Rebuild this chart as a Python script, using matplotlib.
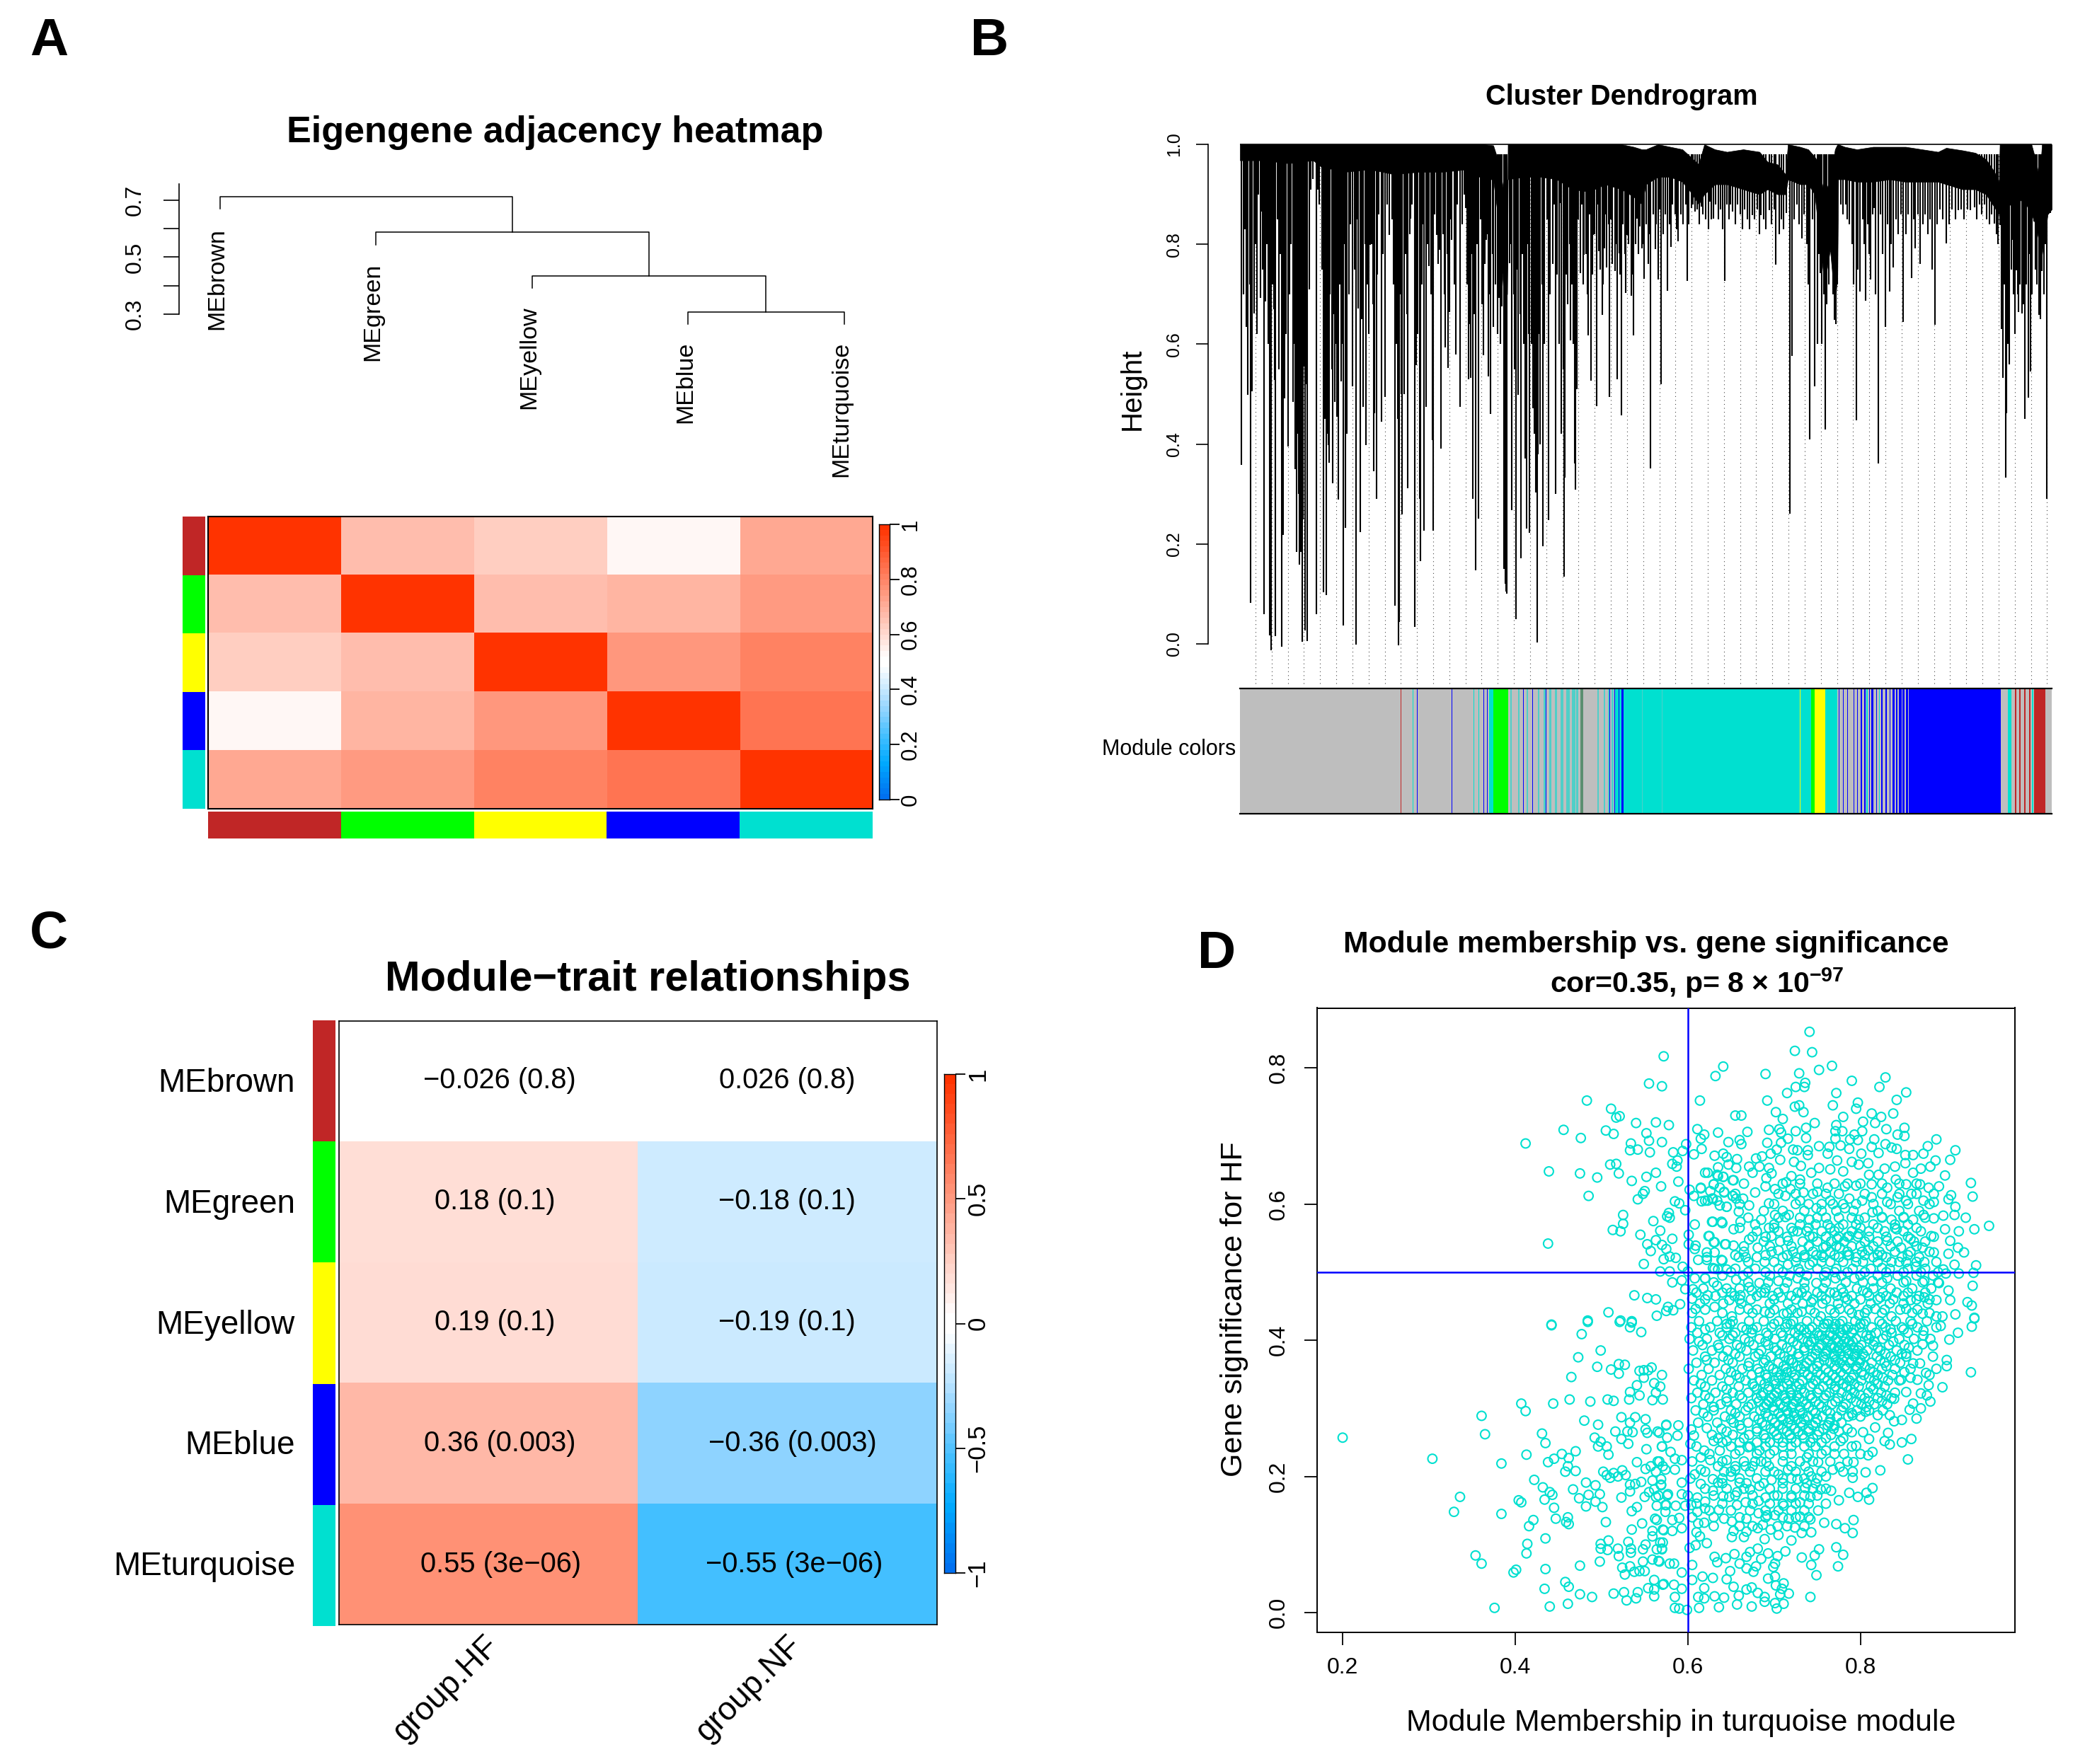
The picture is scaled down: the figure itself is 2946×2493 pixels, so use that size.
# Four panel WGCNA figure: eigengene heatmap, gene dendrogram,
# module-trait heatmap and module membership scatter.

import numpy as np
import matplotlib
matplotlib.use('Agg')
import matplotlib.pyplot as plt
from matplotlib.colors import LinearSegmentedColormap

W, H = 2946, 2493
DPI = 100

TURQ = '#00E0D0'
module_palette = {'grey': '#BEBEBE', 'turquoise': TURQ, 'blue': '#0000FF', 'green': '#00FF00',
                  'yellow': '#FFFF00', 'brown': '#C02626', 'teal': '#4FCFC8', 'olive': '#5A8F70'}

# panel A
me_names = ['MEbrown', 'MEgreen', 'MEyellow', 'MEblue', 'MEturquoise']
me_colors = ['brown', 'green', 'yellow', 'blue', 'turquoise']
adjacency = [[1.00, 0.67, 0.63, 0.535, 0.72],
             [0.67, 1.00, 0.67, 0.69, 0.75],
             [0.63, 0.67, 1.00, 0.76, 0.81],
             [0.535, 0.69, 0.76, 1.00, 0.84],
             [0.72, 0.75, 0.81, 0.84, 1.00]]
# height of each merge, from the lowest one up
merge_heights = [0.308, 0.435, 0.587, 0.712]

# panel C
trait_names = ['group.HF', 'group.NF']
trait_cor = [[-0.026, 0.026], [0.18, -0.18], [0.19, -0.19], [0.36, -0.36], [0.55, -0.55]]
trait_text = [['\u22120.026 (0.8)', '0.026 (0.8)'],
              ['0.18 (0.1)', '\u22120.18 (0.1)'],
              ['0.19 (0.1)', '\u22120.19 (0.1)'],
              ['0.36 (0.003)', '\u22120.36 (0.003)'],
              ['0.55 (3e\u221206)', '\u22120.55 (3e\u221206)']]

# panel B: gene order runs 0-1000 along the tree
env_order = [0, 30, 60, 90, 100, 130, 160, 190, 220, 250, 280, 300, 312, 319, 324, 325, 326, 329, 330, 350,
             370, 390, 410, 430, 450, 470, 485, 495, 500, 515, 530, 545, 555, 565, 572, 585, 600, 620, 640,
             650, 662, 672, 675, 690, 700, 708, 710, 720, 727, 733, 736, 737, 745, 760, 780, 800, 820, 840,
             860, 870, 890, 906, 919, 929, 935, 936, 950, 965, 975, 980, 985, 988, 995, 1000]
env_top = [1, 1, 1, 1, 1, 1, 1, 1, 1, 1, 1, 1, 0.998, 0.963, 0.913, 0.85, 0.70, 0.70, 1, 1,
           1, 1, 1, 1, 1, 1, 0.995, 0.99, 0.99, 1, 0.995, 0.99, 0.975, 0.96, 1, 0.99, 0.985, 0.99, 0.985,
           0.965, 0.96, 0.94, 1, 0.995, 0.99, 0.975, 0.97, 0.90, 0.93, 0.99, 1, 1, 0.995, 0.99, 0.995, 0.995, 0.995, 0.99,
           0.985, 0.993, 0.988, 0.983, 0.97, 0.946, 0.925, 1, 1, 1, 1, 0.97, 0.93, 1, 1, 1]
env_bottom = [0.968, 0.968, 0.962, 0.968, 0.955, 0.945, 0.95, 0.94, 0.945, 0.945, 0.95, 0.93, 0.93, 0.84, 0.72, 0.70, 0.70, 0.70, 0.93, 0.935,
              0.935, 0.93, 0.91, 0.905, 0.92, 0.91, 0.895, 0.88, 0.92, 0.935, 0.935, 0.925, 0.905, 0.88, 0.90, 0.92, 0.92, 0.91, 0.90,
              0.91, 0.90, 0.90, 0.93, 0.92, 0.92, 0.90, 0.87, 0.72, 0.79, 0.68, 0.74, 0.93, 0.93, 0.925, 0.925, 0.93, 0.925, 0.925,
              0.925, 0.92, 0.91, 0.91, 0.90, 0.875, 0.86, 0.87, 0.88, 0.89, 0.86, 0.84, 0.80, 0.78, 0.86, 0.87]
# (gene order, lowest height) of the branches that stick out below the black band
dendro_spikes = [(2, .358), (8, .635), (10, .498), (13, .082), (15, .505), (17, .661), (25, .693), (27, .866), (30, .059), (31, .685),
                 (37, .017), (38, -.013), (43, .528), (44, .015), (51, -.006), (53, .218), (55, .492), (59, .395), (65, .485), (70, .184),
                 (73, .159), (75, .184), (77, .004), (79, .555), (80, .027), (83, .006), (85, .709), (94, .059), (96, .909), (103, .104),
                 (106, .098), (107, .42), (109, .398), (110, .363), (114, .321), (117, .485), (119, .455), (121, .289), (125, .525), (127, .037),
                 (130, .233), (132, .421), (139, .515), (143, -.001), (146, .672), (148, .224), (152, .475), (155, .398), (160, .799), (165, .345),
                 (166, .462), (168, .291), (174, .445), (179, .495), (184, .819), (191, .077), (195, -.003), (196, .044), (200, .259), (202, .500),
                 (207, .311), (210, .852), (215, .034), (217, .558), (221, .291), (222, .166), (227, .226), (229, .475), (233, .756), (237, .408),
                 (238, .226), (242, .819), (246, .789), (248, .391), (253, .593), (256, .552), (258, .665), (261, .809), (266, .580), (271, .475),
                 (278, .872), (282, .530), (284, .532), (287, .291), (290, .148), (294, .251), (300, .578), (303, .809), (306, .535), (309, .460),
                 (312, .635), (319, .692), (323, .675), (325, .15), (327, .12), (328, .105), (329, .10), (332, .762), (335, .268), (340, .049),
                 (343, .498), (346, .171), (351, .371), (353, .231), (357, .223), (361, .472), (364, .303), (366, .003), (370, .40), (373, .196),
                 (380, .248), (389, .300), (394, .883), (399, .134), (400, .333), (407, .607), (412, .361), (413, .309), (415, .510), (419, .742),
                 (424, .779), (429, .617), (432, .527), (435, .819), (439, .476), (442, .786), (446, .659), (449, .792), (452, .753), (455, .494),
                 (462, .746), (465, .530), (467, .782), (470, .458), (475, .703), (477, .819), (482, .697), (485, .617), (489, .852), (493, .836),
                 (495, .792), (498, .731), (506, .351), (512, .790), (515, .730), (519, .520), (527, .707), (531, .794), (540, .806), (551, .727),
                 (556, .872), (561, .866), (568, .876), (579, .886), (583, .851), (597, .727), (604, .879), (607, .866), (631, .859), (642, .858),
                 (652, .869), (660, .759), (673, .862), (677, .261), (680, .577), (692, .812), (702, .409), (708, .515), (715, .742), (721, .429),
                 (727, .806), (732, .649), (734, .640), (748, .850), (759, .447), (764, .705), (771, .687), (777, .730), (781, .872), (786, .361),
                 (795, .634), (800, .705), (805, .753), (817, .645), (827, .733), (832, .792), (838, .760), (856, .639), (870, .802), (885, .869),
                 (900, .869), (905, .874), (920, .850), (929, .842), (936, .839), (938, .631), (940, .533), (943, .333), (944, .462), (948, .560),
                 (951, .809), (956, .748), (959, .664), (963, .662), (967, .450), (971, .493), (974, .545), (978, .846), (984, .659), (988, .747),
                 (994, .290), (998, .862)]
# shorter branches, estimated: they crowd together under the band
dendro_short = [(4, .7), (6, .83), (12, .72), (19, .8), (21, .62), (23, .9), (28, .75), (33, .8), (35, .6), (40, .72), (42, .67), (46, .85), (48, .55), (50, .78),
                (57, .62), (61, .7), (63, .8), (67, .6), (68, .35), (71, .42), (72, .3), (74, .55), (76, .4), (78, .25), (81, .52), (87, .91), (90, .93), (98, .88),
                (101, .75), (104, .6), (105, .45), (108, .62), (111, .7), (113, .55), (116, .66), (118, .6), (120, .52), (123, .72), (126, .6), (129, .8), (134, .7),
                (136, .84), (141, .75), (145, .85), (150, .65), (154, .8), (157, .72), (159, .62), (162, .8), (164, .68), (169, .74), (171, .86), (176, .78), (181, .88),
                (187, .85), (189, .72), (193, .6), (194, .45), (198, .7), (199, .5), (204, .78), (206, .66), (209, .82), (212, .88), (219, .62), (224, .72), (226, .84),
                (231, .8), (235, .7), (240, .86), (244, .76), (250, .82), (252, .7), (255, .78), (260, .85), (264, .72), (268, .88), (274, .84), (276, .9), (280, .72),
                (283, .64), (286, .78), (289, .66), (292, .8), (296, .85), (298, .68), (302, .76), (305, .82), (308, .7), (311, .78), (315, .72), (317, .62), (321, .6),
                (334, .8), (337, .7), (338, .55), (339, .6), (342, .75), (345, .66), (348, .78), (350, .6), (352, .5), (355, .8), (356, .62), (359, .6), (362, .55),
                (363, .42), (365, .5), (367, .38), (369, .62), (372, .72), (375, .6), (378, .85), (382, .7), (385, .76), (387, .88), (391, .74), (393, .6), (396, .42),
                (398, .55), (402, .74), (404, .68), (406, .8), (409, .72), (411, .6), (414, .75), (417, .85), (421, .88), (423, .72), (426, .78), (428, .7), (431, .86),
                (434, .74), (437, .82), (440, .88), (444, .75), (447, .72), (451, .86), (454, .84), (457, .85), (459, .76), (464, .8), (468, .74), (472, .84), (474, .78),
                (479, .8), (484, .74), (487, .8), (491, .78), (497, .8), (500, .84), (503, .76), (505, .82), (509, .86), (513, .84), (517, .87), (521, .82), (524, .86),
                (529, .84), (533, .88), (536, .86), (538, .83), (543, .86), (546, .84), (549, .88), (553, .84), (558, .88), (563, .87), (566, .84), (570, .86), (574, .85),
                (577, .83), (581, .85), (586, .88), (589, .85), (592, .87), (595, .83), (600, .88), (602, .85), (610, .84), (613, .88), (616, .86), (619, .83), (622, .87),
                (625, .85), (628, .83), (634, .85), (637, .87), (640, .82), (645, .85), (648, .83), (655, .84), (658, .87), (664, .82), (667, .85), (670, .83), (683, .85),
                (686, .88), (689, .84), (695, .86), (698, .8), (700, .72), (705, .85), (711, .6), (713, .78), (717, .6), (719, .7), (723, .68), (725, .72), (729, .78),
                (731, .7), (736, .72), (740, .88), (743, .86), (746, .88), (751, .84), (754, .8), (756, .72), (761, .75), (767, .85), (769, .8), (773, .84), (775, .78),
                (779, .86), (783, .7), (789, .86), (792, .78), (798, .84), (802, .8), (808, .85), (811, .82), (814, .86), (820, .82), (823, .86), (830, .85), (835, .86),
                (841, .84), (844, .86), (847, .82), (850, .85), (853, .75), (859, .84), (862, .87), (866, .85), (874, .84), (877, .87), (881, .85), (888, .87), (892, .85),
                (896, .87), (908, .85), (911, .88), (914, .86), (917, .88), (923, .84), (926, .86), (932, .82), (934, .8), (942, .72), (946, .6), (950, .75), (953, .7),
                (955, .62), (958, .7), (961, .72), (965, .68), (969, .72), (973, .78), (976, .7), (980, .75), (982, .72), (986, .65), (990, .7), (992, .8), (996, .86)]
# (start, end, colour) of the wide blocks in the colour row
module_blocks = [(0, 306.5, 'grey'), (306.5, 312, 'turquoise'), (312, 330, 'green'), (330, 426, 'grey'), (426, 461, 'grey'),
                 (461, 704, 'turquoise'), (704, 708, 'green'), (708, 721, 'yellow'), (721, 736, 'turquoise'), (736, 829, 'grey'),
                 (829, 937, 'blue'), (937, 946, 'grey'), (946, 950, 'turquoise'), (950, 978, 'grey'), (978, 992, 'brown'), (992, 1000, 'grey')]
# (position, width, colour) of the thin stripes drawn over them
module_stripes = [(198, .4, 'brown'), (208, .4, 'turquoise'), (213, .4, 'turquoise'), (218, .5, 'blue'), (245, .3, 'yellow'), (261, .5, 'blue'),
                  (270, .3, 'yellow'), (288, .5, 'turquoise'), (294, .5, 'turquoise'), (300, .8, 'blue'), (304, .8, 'blue'),
                  (333, 1.5, 'teal'), (343, 1.5, 'teal'), (353, 2, 'teal'), (367, 2, 'teal'), (374, 3, 'teal'), (381, 2.5, 'teal'), (388, 3, 'teal'),
                  (395, 3, 'teal'), (402, 4, 'teal'), (409, 4, 'teal'), (414, 3, 'teal'), (349, .8, 'blue'), (360, .6, 'blue'), (377, .6, 'blue'),
                  (419, 4, 'olive'), (440, 2, 'teal'), (448, 2, 'teal'), (453, 2, 'teal'), (458, 2, 'teal'), (455, 1, 'blue'), (461, 1, 'blue'),
                  (466, 1, 'blue'), (470, 2.5, 'blue'), (495, .8, 'teal'), (520, .8, 'teal'), (528, .5, 'blue'),
                  (584, .4, 'yellow'), (690, .4, 'yellow'), (738, .8, 'blue'), (743, .8, 'blue'), (748, .8, 'blue'),
                  (752, .8, 'blue'), (756, .8, 'blue'), (760, .8, 'blue'), (765, 1, 'blue'), (769, 2, 'blue'), (775, 1, 'blue'), (778, 2, 'blue'),
                  (784, 1, 'blue'), (790, 1.5, 'blue'), (795, 2, 'blue'), (800, 1.5, 'blue'), (804, 2.5, 'blue'), (808, 2, 'blue'), (812, 3, 'blue'),
                  (816, 2.5, 'blue'), (820, 3, 'blue'), (824, 3, 'blue'), (827, 2, 'blue'), (772, 1, 'turquoise'), (787, 1, 'turquoise'),
                  (955, 1, 'brown'), (960, 1.5, 'brown'), (966, 1.5, 'brown'), (972, 1.5, 'brown'), (976, 1, 'turquoise')]

# panel D: (module membership, gene significance) for the points that can be told apart
mm_gs_points = [
    (.200, .257), (.304, .226), (.361, .289), (.365, .262), (.384, .219), (.336, .170), (.329, .148), (.384, .145), (.407, .307), (.412, .296),
    (.413, .232), (.431, .263), (.435, .249), (.438, .221), (.445, .226), (.454, .233), (.462, .227), (.470, .237), (.461, .215), (.458, .207),
    (.470, .208), (.422, .195), (.432, .184), (.440, .177), (.443, .173), (.434, .166), (.445, .154), (.447, .138), (.404, .165), (.407, .162),
    (.421, .136), (.416, .127), (.461, .140), (.459, .133), (.462, .130), (.435, .109), (.414, .101), (.413, .087), (.354, .084), (.361, .072),
    (.401, .063), (.398, .059), (.435, .064), (.434, .035), (.376, .007), (.440, .009), (.461, .013), (.458, .045), (.462, .038), (.475, .027),
    (.489, .023), (.475, .069), (.498, .075), (.442, .422), (.484, .427), (.477, .409), (.521, .427), (.535, .426), (.533, .419), (.546, .412),
    (.499, .385), (.473, .375), (.495, .361), (.511, .357), (.520, .365), (.527, .364), (.520, .351), (.465, .346), (.444, .307), (.463, .313),
    (.487, .310), (.507, .313), (.514, .311), (.532, .313), (.544, .355), (.549, .356), (.554, .356), (.558, .360), (.549, .345), (.570, .349),
    (.561, .337), (.568, .332), (.541, .334), (.533, .324), (.544, .319), (.563, .323), (.559, .312), (.571, .313), (.480, .282), (.496, .276),
    (.523, .287), (.539, .287), (.551, .284), (.533, .279), (.516, .266), (.530, .266), (.536, .265), (.551, .269), (.553, .264), (.565, .266),
    (.575, .275), (.523, .255), (.531, .248), (.492, .257), (.499, .251), (.496, .244), (.506, .244), (.508, .232), (.552, .240), (.570, .244),
    (.541, .221), (.551, .211), (.557, .215), (.565, .222), (.571, .215), (.563, .207), (.502, .207), (.506, .202), (.514, .205), (.510, .198),
    (.519, .200), (.524, .209), (.528, .202), (.482, .191), (.493, .187), (.467, .181), (.485, .173), (.498, .174), (.474, .168), (.493, .163),
    (.482, .156), (.501, .155), (.505, .133), (.523, .169), (.533, .178), (.533, .188), (.539, .189), (.546, .192), (.559, .194), (.569, .196),
    (.569, .187), (.550, .170), (.555, .177), (.561, .181), (.563, .170), (.576, .172), (.564, .157), (.574, .158), (.535, .149), (.541, .155),
    (.562, .138), (.547, .131), (.535, .122), (.559, .120), (.572, .121), (.559, .112), (.508, .106), (.499, .101), (.499, .094), (.507, .092),
    (.519, .094), (.531, .104), (.534, .094), (.520, .083), (.534, .088), (.548, .093), (.551, .100), (.568, .103), (.564, .093), (.570, .094),
    (.559, .078), (.548, .075), (.566, .076), (.524, .066), (.533, .068), (.527, .056), (.538, .060), (.544, .061), (.550, .061), (.561, .048),
    (.554, .036), (.571, .041), (.542, .030), (.514, .028), (.526, .030), (.529, .018), (.540, .021), (.561, .034), (.561, .024),
    (.928, .353), (.895, .331), (.932, .432), (.929, .420), (.900, .371), (.900, .362), (.888, .358), (.866, .342), (.880, .349), (.876, .352),
    (.879, .334), (.870, .322), (.877, .319), (.881, .310), (.861, .307), (.857, .298), (.870, .300), (.865, .285), (.848, .283), (.839, .281),
    (.859, .255), (.848, .250), (.834, .247), (.855, .225), (.823, .209), (.806, .206), (.791, .198), (.791, .207), (.814, .183), (.807, .176),
    (.810, .166), (.797, .170), (.787, .176), (.792, .136), (.791, .117), (.782, .124), (.772, .130), (.758, .132), (.751, .150), (.772, .096),
    (.780, .085), (.774, .068), (.752, .093), (.747, .084), (.743, .070), (.749, .055), (.732, .081), (.742, .023), (.717, .028), (.711, .043),
    (.711, .013), (.703, .006), (.701, .014), (.707, .027), (.702, .040), (.709, .035), (.693, .050), (.701, .053), (.674, .009), (.657, .012),
    (.659, .025), (.636, .008), (.613, .007), (.642, .022), (.631, .024), (.619, .021), (.612, .023), (.619, .036), (.668, .034), (.674, .037),
    (.681, .029), (.689, .023), (.689, .016), (.617, .053), (.605, .048), (.605, .070), (.653, .038), (.645, .049), (.629, .051), (.649, .061),
    (.634, .074), (.631, .082), (.644, .080), (.654, .086), (.660, .072), (.668, .082), (.668, .065), (.676, .060), (.679, .068), (.685, .079),
    (.672, .089), (.681, .094), (.693, .087), (.704, .083), (.713, .090), (.701, .072), (.699, .067), (.593, .059), (.584, .072), (.584, .041),
    (.593, .035), (.572, .042), (.585, .023), (.585, .007), (.590, .006), (.599, .004), (.622, .102), (.614, .112), (.610, .118), (.602, .095),
    (.609, .099), (.651, .111), (.653, .120), (.665, .111), (.668, .119), (.689, .108), (.705, .114), (.720, .106), (.724, .125), (.732, .117),
    (.743, .118), (.742, .137), (.681, .124), (.696, .122), (.687, .129), (.704, .127), (.571, .122), (.582, .120), (.593, .124), (.570, .093),
    (.567, .075), (.579, .072), (.571, .103), (.575, .276), (.589, .275), (.567, .264), (.588, .260), (.576, .257), (.570, .244), (.580, .236),
    (.585, .226), (.567, .222), (.593, .224), (.585, .210), (.574, .210), (.593, .191), (.569, .188), (.577, .174), (.593, .174), (.566, .172),
    (.575, .158), (.586, .157), (.574, .148), (.590, .139), (.582, .136), (.564, .136), (.597, .157), (.603, .248), (.604, .269), (.622, .271),
    (.607, .260), (.619, .238), (.630, .252), (.645, .252), (.615, .228), (.626, .224), (.637, .238), (.660, .238), (.670, .243), (.645, .224),
    (.655, .210), (.667, .215), (.678, .222), (.683, .238), (.700, .238), (.711, .231), (.691, .221), (.642, .207), (.629, .196), (.615, .210),
    (.608, .203), (.615, .189), (.629, .179), (.635, .191), (.650, .200), (.660, .191), (.657, .177), (.641, .171), (.611, .169), (.620, .163),
    (.604, .158), (.611, .148), (.620, .153), (.612, .131), (.619, .132), (.636, .151), (.642, .138), (.651, .134), (.648, .170), (.667, .162),
    (.668, .138), (.657, .158), (.682, .146), (.692, .143), (.701, .143), (.711, .157), (.717, .138), (.730, .141), (.730, .162), (.742, .170),
    (.720, .169), (.704, .172), (.690, .169), (.682, .164), (.672, .181), (.683, .186), (.697, .195), (.716, .210), (.705, .203), (.727, .196),
    (.736, .183), (.743, .200), (.754, .181), (.766, .179), (.775, .165), (.760, .200), (.768, .210), (.751, .221), (.738, .228), (.781, .233),
    (.776, .214), (.760, .238), (.792, .221), (.795, .245), (.809, .231), (.814, .236), (.810, .255), (.803, .265), (.817, .272), (.832, .264),
    (.828, .252), (.790, .265), (.777, .252), (.791, .290), (.806, .295), (.820, .290), (.834, .290), (.825, .311), (.839, .314), (.853, .324),
    (.847, .342), (.858, .345), (.869, .366), (.861, .366), (.853, .380), (.872, .394), (.884, .392), (.873, .414), (.884, .376), (.893, .421),
    (.903, .401), (.913, .411),
    (.572, .817), (.641, .802), (.632, .788), (.555, .777), (.570, .773), (.483, .752), (.614, .752), (.511, .740), (.517, .727), (.521, .729),
    (.655, .730), (.662, .730), (.563, .720), (.540, .719), (.578, .716), (.456, .709), (.476, .697), (.505, .708), (.514, .703), (.552, .704),
    (.412, .689), (.611, .710), (.619, .702), (.615, .696), (.635, .705), (.669, .706), (.660, .694), (.662, .688), (.647, .691), (.555, .693),
    (.570, .691), (.534, .689), (.533, .679), (.542, .680), (.556, .676), (.598, .688), (.594, .678), (.583, .676), (.607, .673), (.616, .681),
    (.631, .671), (.641, .674), (.645, .669), (.657, .666), (.647, .658), (.656, .653), (.635, .654), (.510, .658), (.517, .659), (.520, .645),
    (.439, .648), (.475, .645), (.495, .639), (.588, .664), (.582, .659), (.587, .655), (.535, .634), (.552, .640), (.563, .646), (.589, .633),
    (.569, .626), (.485, .612), (.550, .619), (.548, .615), (.542, .607), (.585, .604), (.590, .601), (.597, .591), (.602, .621), (.607, .612),
    (.615, .623), (.620, .646), (.623, .646), (.634, .643), (.641, .640), (.652, .635), (.630, .629), (.637, .624), (.626, .619), (.642, .618),
    (.652, .612), (.616, .604), (.623, .605), (.628, .608), (.637, .598), (.645, .596), (.656, .608), (.525, .584), (.525, .571), (.513, .562),
    (.522, .560), (.560, .575), (.578, .587), (.576, .582), (.579, .580), (.608, .570), (.568, .561), (.545, .555), (.438, .542), (.582, .549),
    (.563, .547), (.553, .541), (.570, .540), (.575, .534), (.557, .531), (.601, .555), (.601, .541), (.609, .539), (.608, .534), (.628, .574),
    (.639, .574), (.624, .553), (.630, .544), (.643, .541), (.622, .529), (.631, .529), (.612, .518), (.622, .518), (.639, .518), (.572, .519),
    (.579, .523), (.586, .521), (.549, .512), (.594, .508), (.568, .501), (.579, .501), (.600, .501), (.582, .485), (.593, .488), (.608, .491),
    (.620, .491), (.538, .466), (.553, .462), (.563, .460), (.508, .441), (.564, .436), (.577, .449), (.575, .443), (.583, .444), (.591, .453),
    (.597, .475), (.606, .475), (.605, .461), (.609, .446), (.484, .429), (.522, .429), (.535, .428), (.442, .423), (.635, .504), (.631, .505),
    (.645, .504),
    (.741, .853), (.724, .825), (.744, .823), (.767, .803), (.752, .797), (.690, .791), (.729, .792), (.790, .781), (.829, .786), (.822, .772),
    (.853, .764), (.736, .778), (.735, .772), (.725, .772), (.715, .763), (.772, .763), (.842, .753), (.692, .752), (.768, .745), (.797, .749),
    (.795, .740), (.724, .743), (.729, .745), (.734, .735), (.702, .735), (.710, .725), (.838, .733), (.813, .733), (.824, .728), (.780, .728),
    (.803, .721), (.747, .719), (.772, .716), (.817, .719), (.737, .712), (.694, .709), (.706, .710), (.708, .705), (.725, .707), (.771, .707),
    (.779, .707), (.802, .707), (.830, .710), (.851, .712), (.843, .702), (.851, .700), (.793, .702), (.737, .697), (.716, .696), (.771, .696),
    (.788, .695), (.797, .694), (.816, .695), (.888, .695), (.692, .690), (.708, .690), (.752, .685), (.764, .684), (.777, .686), (.813, .684),
    (.829, .688), (.878, .685), (.910, .679), (.703, .680), (.722, .680), (.727, .679), (.739, .679), (.739, .672), (.762, .674), (.787, .681),
    (.821, .675), (.836, .683), (.842, .681), (.873, .674), (.852, .672), (.861, .672), (.904, .665), (.887, .664), (.696, .674), (.679, .667),
    (.686, .670), (.671, .655), (.675, .646), (.683, .655), (.694, .653), (.707, .665), (.723, .662), (.731, .656), (.752, .653), (.773, .664),
    (.790, .662), (.801, .674), (.798, .658), (.809, .660), (.828, .652), (.840, .655), (.852, .660), (.870, .652), (.881, .655), (.898, .642),
    (.928, .631), (.930, .611), (.861, .646), (.810, .643), (.821, .643), (.780, .648), (.720, .641), (.697, .645), (.691, .638), (.743, .646),
    (.765, .651), (.730, .636), (.714, .632), (.690, .626), (.701, .622), (.719, .622), (.734, .617), (.782, .626), (.795, .627), (.813, .629),
    (.841, .636), (.853, .629), (.869, .629), (.879, .624), (.891, .626), (.905, .613), (.902, .607), (.910, .596), (.909, .584), (.922, .580),
    (.896, .583), (.885, .603), (.873, .605), (.859, .615), (.831, .624), (.843, .610), (.853, .605), (.831, .603), (.813, .610), (.802, .605),
    (.787, .608), (.762, .624), (.750, .618), (.730, .605), (.713, .612), (.694, .601), (.701, .584), (.717, .584), (.678, .617), (.664, .608),
    (.652, .612), (.671, .598), (.659, .589), (.645, .596), (.634, .605), (.620, .605), (.629, .608), (.635, .641), (.641, .640), (.653, .635),
    (.630, .629), (.615, .624), (.642, .617), (.629, .574), (.640, .572), (.625, .553), (.653, .563), (.671, .548), (.644, .541), (.653, .539),
    (.631, .544), (.622, .522), (.640, .517), (.659, .522), (.678, .570), (.685, .577), (.661, .574), (.694, .565), (.713, .581), (.727, .560),
    (.741, .577), (.749, .594), (.765, .605), (.782, .594), (.798, .577), (.814, .588), (.825, .581), (.836, .577), (.850, .581), (.861, .577),
    (.873, .584), (.885, .579), (.898, .563), (.914, .560), (.932, .563), (.949, .568), (.913, .536), (.920, .529), (.904, .546), (.902, .527),
    (.909, .511), (.934, .510), (.931, .499), (.930, .480), (.914, .498), (.899, .498), (.896, .504), (.902, .473), (.904, .459), (.924, .456),
    (.929, .451), (.910, .438), (.932, .433), (.895, .435), (.885, .529), (.882, .553), (.872, .536), (.858, .549), (.874, .515), (.888, .515),
    (.842, .563), (.847, .536), (.831, .546), (.809, .532), (.798, .556), (.787, .553), (.820, .525), (.836, .515), (.853, .515), (.864, .508),
    (.773, .549), (.757, .536), (.741, .553), (.732, .532), (.716, .546), (.705, .532), (.697, .553), (.681, .536), (.667, .522), (.689, .515),
    (.716, .511), (.741, .511), (.765, .515), (.787, .525), (.803, .515), (.825, .506), (.776, .536), (.749, .525), (.726, .522), (.629, .506),
    (.620, .491), (.634, .480), (.656, .489), (.671, .478), (.683, .484), (.705, .487), (.727, .491), (.749, .484), (.771, .491), (.793, .491),
    (.814, .487), (.831, .491), (.853, .487), (.874, .487), (.891, .484), (.623, .466), (.640, .470), (.648, .459), (.661, .466), (.674, .473),
    (.689, .470), (.708, .463), (.727, .470), (.743, .456), (.765, .470), (.782, .463), (.803, .473), (.823, .463), (.842, .470), (.858, .459),
    (.874, .463), (.888, .459), (.631, .449), (.651, .435), (.670, .446), (.689, .442), (.711, .439), (.732, .442), (.754, .435), (.776, .446),
    (.798, .437), (.817, .446), (.836, .435), (.853, .446), (.872, .439), (.888, .435)]
# the solid core cannot be read ring by ring, so it is estimated band by band: (gene significance, [module membership])
core_bands = [
    (.428, [.613, .634, .652, .671, .688, .705, .722, .738, .751, .763, .779, .794, .806, .822, .841, .858, .877]),
    (.419, [.604, .626, .645, .663, .68, .697, .713, .731, .744, .757, .769, .786, .799, .813, .829, .848, .866, .888]),
    (.411, [.611, .637, .655, .674, .691, .708, .724, .737, .75, .765, .776, .79, .802, .818, .836, .855]),
    (.402, [.602, .622, .648, .666, .683, .701, .718, .733, .746, .759, .772, .783, .795, .81, .826, .845, .862, .881]),
    (.393, [.617, .635, .657, .676, .693, .709, .727, .741, .755, .767, .778, .789, .801, .815, .833, .851]),
    (.385, [.606, .628, .646, .668, .685, .703, .72, .735, .749, .761, .773, .785, .797, .808, .823, .842, .866]),
    (.376, [.62, .641, .66, .678, .696, .712, .729, .744, .757, .77, .781, .793, .805, .819, .835, .853]),
    (.367, [.61, .631, .652, .671, .688, .705, .722, .738, .752, .765, .776, .788, .799, .813, .828, .846]),
    (.358, [.601, .624, .644, .663, .681, .699, .714, .731, .746, .76, .772, .784, .796, .811, .825, .84, .858]),
    (.349, [.616, .637, .656, .674, .69, .708, .724, .739, .754, .768, .78, .792, .804, .82, .837]),
    (.341, [.607, .628, .648, .667, .684, .7, .717, .733, .748, .762, .775, .787, .801, .816, .832, .845]),
    (.332, [.62, .64, .659, .677, .694, .71, .726, .742, .757, .771, .784, .798, .812, .828]),
    (.323, [.611, .632, .652, .67, .687, .703, .719, .735, .75, .764, .778, .793, .809, .824, .84]),
    (.315, [.604, .625, .645, .663, .68, .697, .713, .729, .744, .758, .774, .789, .805, .82, .836]),
    (.306, [.618, .638, .656, .674, .691, .707, .722, .737, .752, .767, .783, .801, .816, .831]),
    (.297, [.609, .63, .65, .667, .684, .7, .715, .73, .745, .761, .778, .796, .81, .826]),
    (.288, [.623, .643, .66, .677, .693, .708, .723, .739, .756, .773, .786, .8]),
    (.279, [.612, .634, .653, .67, .686, .701, .716, .731, .748, .764, .778]),
    (.27, [.639, .662, .68, .696, .71, .724, .74, .757, .769, .785]),
    (.261, [.628, .652, .671, .688, .703, .718, .733, .75, .766]),
    (.25, [.64, .66, .68, .695, .71, .725, .742, .755]),
    (.215, [.635, .655, .675, .694, .72, .736]),
    (.19, [.64, .668, .688, .71, .738, .748]),
    (.445, [.62, .66, .68, .7, .72, .742, .765, .787, .808, .828, .846, .866]),
    (.454, [.614, .641, .662, .695, .716, .733, .756, .774, .793, .812, .834, .85, .878]),
    (.465, [.632, .654, .68, .698, .72, .738, .755, .773, .79, .81, .83, .85, .868]),
    (.476, [.618, .645, .66, .69, .712, .735, .757, .778, .796, .815, .835, .86, .882]),
    (.495, [.64, .664, .695, .718, .738, .758, .778, .8, .82, .843, .865, .884]),
    (.505, [.655, .678, .705, .728, .75, .772, .791, .812, .834, .855, .875]),
    (.522, [.68, .71, .735, .757, .775, .795, .815, .83, .848, .868]),
    (.53, [.665, .697, .722, .745, .765, .785, .802, .822, .84, .858, .88]),
    (.545, [.688, .707, .733, .75, .766, .781, .805, .82, .843, .862, .875]),
    (.56, [.68, .705, .722, .738, .755, .77, .79, .81, .828, .85, .87]),
    (.57, [.7, .73, .748, .762, .78, .795, .815, .84, .855]),
    (.59, [.688, .71, .735, .755, .772, .792, .82, .845, .868]),
    (.424, [.645, .649, .7, .715, .719, .758, .762, .771, .776, .8, .804, .825, .86]),
    (.416, [.62, .668, .675, .729, .735, .741, .77, .78, .784, .792, .835, .85]),
    (.407, [.64, .652, .693, .71, .728, .752, .755, .764, .768, .779, .807, .812, .83, .873]),
    (.398, [.613, .671, .69, .722, .739, .743, .762, .774, .781, .787, .791, .816, .838]),
    (.389, [.636, .661, .7, .715, .735, .752, .766, .77, .775, .783, .792, .798, .82, .856]),
    (.38, [.655, .682, .707, .728, .748, .76, .769, .777, .786, .794, .803, .829, .848]),
    (.371, [.622, .647, .69, .717, .72, .741, .758, .771, .779, .79, .8, .823, .84]),
    (.362, [.67, .694, .711, .727, .735, .75, .77, .782, .795, .805, .83]),
    (.353, [.65, .683, .703, .715, .72, .735, .75, .763, .777, .801, .815, .851]),
    (.345, [.66, .692, .705, .713, .723, .742, .758, .771, .79, .81, .826]),
    (.336, [.615, .675, .689, .702, .715, .729, .745, .766, .78, .793, .82]),
    (.328, [.645, .68, .693, .706, .72, .731, .752, .77, .789, .815]),
    (.319, [.62, .66, .685, .7, .71, .72, .727, .742, .76, .785, .8, .83]),
    (.31, [.645, .682, .694, .703, .714, .725, .733, .748, .771, .795, .81]),
    (.302, [.63, .67, .688, .699, .711, .72, .73, .74, .755, .78, .807]),
    (.293, [.618, .655, .69, .705, .716, .723, .733, .748, .765, .79]),
    (.284, [.65, .682, .698, .71, .718, .727, .735, .75, .765]),
    (.275, [.66, .69, .705, .72, .733, .745, .762, .77]),
    (.266, [.645, .68, .7, .715, .728, .74, .752, .775]),
    (.256, [.635, .665, .69, .705, .72, .735, .745, .76, .78]),
    (.244, [.61, .65, .672, .69, .71, .72, .735, .748, .77, .79]),
    (.233, [.625, .655, .68, .695, .72, .74, .755, .77, .8]),
    (.222, [.605, .64, .665, .685, .71, .73, .745, .765, .785]),
    (.207, [.62, .65, .672, .69, .7, .725, .74, .755, .78]),
    (.197, [.603, .64, .66, .68, .71, .72, .735, .75]),
    (.182, [.62, .645, .665, .695, .71, .725, .745, .76]),
    (.172, [.6, .63, .655, .675, .7, .72, .735, .75]),
    (.16, [.61, .64, .675, .695, .71, .725, .74, .76]),
    (.15, [.625, .65, .672, .69, .705, .72, .735]),
    (.14, [.605, .63, .66, .69, .71, .725, .74]),
    (.127, [.63, .66, .675, .715, .735]),
    (.44, [.605, .64, .675, .695, .715, .727, .747, .77, .79, .805, .825, .86, .88]),
    (.46, [.62, .66, .673, .7, .725, .745, .76, .785, .8, .82, .838, .865, .88]),
    (.47, [.61, .65, .685, .705, .732, .75, .77, .78, .808, .826, .855, .875]),
    (.485, [.63, .67, .693, .715, .735, .76, .783, .803, .825, .85, .872, .89]),
    (.5, [.65, .67, .69, .71, .73, .76, .77, .785, .805, .83, .85, .87, .89]),
    (.515, [.67, .7, .725, .745, .755, .78, .795, .82, .845, .865]),
    (.525, [.655, .69, .715, .735, .755, .77, .785, .805, .825, .855]),
    (.538, [.665, .695, .72, .74, .76, .772, .79, .8, .815, .835, .865]),
    (.552, [.675, .69, .715, .745, .76, .775, .785, .797, .81, .83, .855, .885]),
    (.565, [.66, .7, .72, .74, .765, .775, .8, .82, .84, .865]),
    (.58, [.67, .705, .73, .75, .76, .775, .79, .805, .825, .85, .875]),
    (.6, [.66, .7, .725, .74, .755, .768, .78, .795, .815, .835, .855, .88]),
    (.615, [.655, .705, .725, .745, .76, .775, .805, .825, .845, .865, .885]),
    (.63, [.665, .71, .73, .75, .77, .785, .8, .825, .845, .865])]

# tick values
dendro_ticks = [0.0, 0.2, 0.4, 0.6, 0.8, 1.0]
mm_ticks = [0.2, 0.4, 0.6, 0.8]
gs_ticks = [0.0, 0.2, 0.4, 0.6, 0.8]

plt.rcParams['font.family'] = ['Liberation Sans', 'DejaVu Sans']
plt.rcParams['mathtext.fontset'] = 'custom'
plt.rcParams['mathtext.bf'] = 'Liberation Sans:bold'
plt.rcParams['mathtext.rm'] = 'Liberation Sans'

heat_cmap = LinearSegmentedColormap.from_list(
    'blue_white_red', [(0, '#0070F0'), (0.125, '#00AAFF'), (0.225, '#45C0FF'), (0.32, '#90D4FF'), (0.41, '#D0ECFF'),
                       (0.485, '#FFFFFF'), (0.515, '#FFFFFF'), (1, '#FF3300')])


def px_axes(fig, left, top, right, bottom):
    # axes placed by pixel edges of the final picture
    return fig.add_axes([left / W, 1 - bottom / H, (right - left) / W, (bottom - top) / H])


def px_text(fig, x, y, s, **kw):
    return fig.text(x / W, 1 - y / H, s, **kw)


def color_strip(fig, left, top, right, bottom, names, vertical=True):
    ax = px_axes(fig, left, top, right, bottom)
    for i, name in enumerate(names):
        if vertical:
            ax.axhspan(len(names) - i - 1, len(names) - i, color=module_palette[name], lw=0)
        else:
            ax.axvspan(i, i + 1, color=module_palette[name], lw=0)
    ax.set_xlim(0, len(names) if not vertical else 1)
    ax.set_ylim(0, len(names) if vertical else 1)
    ax.axis('off')
    return ax


def color_key(fig, left, top, right, bottom, vmin, vmax, ticks, labels, tick_x, fontsize):
    ax = px_axes(fig, left, top, right, bottom)
    grad = np.linspace(1, 0, 50).reshape(-1, 1)
    ax.imshow(grad, cmap=heat_cmap, vmin=0, vmax=1, aspect='auto', extent=[0, 1, vmin, vmax])
    ax.set_xticks([])
    ax.yaxis.tick_right()
    ax.set_yticks(ticks)
    ax.set_yticklabels([])
    ax.tick_params(axis='y', length=10, width=1.3)
    for spine in ax.spines.values():
        spine.set_linewidth(1.0)
    for val, lab in zip(ticks, labels):
        y = bottom + (top - bottom) * (val - vmin) / (vmax - vmin)
        px_text(fig, tick_x, y, lab, rotation=90, ha='center', va='center', fontsize=fontsize)


def panel_a(fig):
    px_text(fig, 784, 187, 'Eigengene adjacency heatmap', ha='center', va='center', fontsize=37.5, fontweight='bold')

    # dendrogram of the module eigengenes
    ax = px_axes(fig, 253, 260, 1240, 444)
    ax.set_xlim(-0.263, 4.215)
    ax.set_ylim(0.3, 0.757)
    ax.patch.set_alpha(0)
    for side in ['top', 'right', 'bottom']:
        ax.spines[side].set_visible(False)
    ax.spines['left'].set_linewidth(1.2)
    ax.set_xticks([])
    ax.set_yticks([0.3, 0.4, 0.5, 0.6, 0.7])
    ax.set_yticklabels([])
    ax.tick_params(axis='y', length=15.8, width=1.2)
    hang = 0.043
    # each merge joins the next leaf to the left with what is already merged
    right_x, right_h = 4.0, merge_heights[0] - hang
    left_leaves = [3.0, 2.0, 1.0, 0.0]
    for leaf, h in zip(left_leaves, merge_heights):
        ax.plot([leaf, leaf, right_x, right_x], [h - hang, h, h, right_h], color='black', lw=1.1, clip_on=False)
        right_x, right_h = (leaf + right_x) / 2, h
    for val, lab in zip([0.3, 0.5, 0.7], ['0.3', '0.5', '0.7']):
        px_text(fig, 191, 444 - (val - 0.3) * 402.5, lab, rotation=90, ha='center', va='center', fontsize=23)
    for name, x, y in zip(me_names, [307, 527, 748, 969, 1189], [322, 372, 432, 483, 483]):
        px_text(fig, x, y, name, rotation=90, ha='center', va='top', fontsize=24.6)

    # heatmap
    ax = px_axes(fig, 294, 730, 1233, 1143)
    ax.imshow(adjacency, cmap=heat_cmap, vmin=0, vmax=1, aspect='auto', interpolation='nearest')
    ax.set_xticks([])
    ax.set_yticks([])
    for spine in ax.spines.values():
        spine.set_linewidth(1.5)
    color_strip(fig, 257.5, 730, 290, 1143, me_colors)
    color_strip(fig, 294, 1147, 1233, 1185, me_colors, vertical=False)
    color_key(fig, 1242, 741, 1257, 1130, 0, 1, [0, 0.2, 0.4, 0.6, 0.8, 1],
              ['0', '0.2', '0.4', '0.6', '0.8', '1'], 1287, 22.4)


def panel_b(fig):
    px_text(fig, 2291, 137, 'Cluster Dendrogram', ha='center', va='center', fontsize=28.6, fontweight='bold')
    ax = px_axes(fig, 1706.6, 189.9, 2899, 980.6)
    ax.set_xlim(-39.6, 1000)
    ax.set_ylim(-0.1, 1.02)
    ax.patch.set_alpha(0)
    for side in ['top', 'right', 'bottom']:
        ax.spines[side].set_visible(False)
    ax.spines['left'].set_bounds(0, 1)
    ax.spines['left'].set_linewidth(1.2)
    ax.set_xticks([])
    ax.set_yticks(dendro_ticks)
    ax.set_yticklabels([])
    ax.tick_params(axis='y', length=12.5, width=1.2)

    # guide lines from the branches to the colour row
    guides = np.arange(19.1, 1000, 19.9)
    ax.vlines(guides, -0.079, 0.98, color='#444444', lw=0.8, linestyles=(0, (1, 4)), zorder=1)
    ax.fill_between(env_order, env_bottom, env_top, color='black', lw=0.5, zorder=3)
    ax.hlines(1.0, 0, 1000, color='black', lw=1.2, zorder=3)
    ax.vlines([p[0] for p in dendro_spikes], [p[1] for p in dendro_spikes], 0.98, color='black', lw=1.5, zorder=3)
    ax.vlines([p[0] for p in dendro_short], [p[1] for p in dendro_short], 0.98, color='black', lw=1.5, zorder=3)

    for val in dendro_ticks:
        px_text(fig, 1659, 910 - val * 706, f'{val:.1f}', rotation=90, ha='center', va='center', fontsize=18)
    px_text(fig, 1600, 550, 'Height', rotation=90, ha='center', va='center', fontsize=29)
    px_text(fig, 1746, 1059, 'Module colors', ha='right', va='center', fontsize=22)

    # module colour row
    ax = px_axes(fig, 1752, 973, 2899, 1150)
    for start, end, name in module_blocks:
        ax.axvspan(start, end, color=module_palette[name], lw=0)
    for pos, width, name in module_stripes:
        ax.axvspan(pos, pos + width, color=module_palette[name], lw=0)
    ax.set_xlim(0, 1000)
    ax.set_ylim(0, 1)
    ax.set_xticks([])
    ax.set_yticks([])
    ax.spines['left'].set_visible(False)
    ax.spines['right'].set_visible(False)
    ax.spines['top'].set_linewidth(1.6)
    ax.spines['bottom'].set_linewidth(1.6)


def panel_c(fig):
    px_text(fig, 915, 1385, 'Module\u2212trait relationships', ha='center', va='center', fontsize=42.8, fontweight='bold')
    ax = px_axes(fig, 479, 1443, 1324, 2296)
    ax.imshow(trait_cor, cmap=heat_cmap, vmin=-1, vmax=1, aspect='auto', interpolation='nearest')
    ax.set_xticks([])
    ax.set_yticks([])
    for spine in ax.spines.values():
        spine.set_linewidth(1.2)
    text_x = [[706, 1112], [699, 1112], [699, 1112], [706, 1120], [708, 1122]]
    text_y = [1527, 1698, 1869, 2040, 2211]
    label_y = [1531, 1702, 1873, 2043, 2214]
    for row in range(5):
        for col in range(2):
            px_text(fig, text_x[row][col], text_y[row], trait_text[row][col], ha='center', va='center', fontsize=28.7)
        px_text(fig, 417, label_y[row], me_names[row], ha='right', va='center', fontsize=33)
    color_strip(fig, 442, 1442, 474, 2298, me_colors)
    for name, x in zip(trait_names, [682, 1110]):
        px_text(fig, x, 2304, name, rotation=45, ha='right', va='top', rotation_mode='anchor', fontsize=33)
    color_key(fig, 1334, 1518, 1350, 2223, -1, 1, [-1, -0.5, 0, 0.5, 1],
              ['\u22121', '\u22120.5', '0', '0.5', '1'], 1382, 25)


def panel_d(fig):
    px_text(fig, 2326, 1335, 'Module membership vs. gene significance', ha='center', va='center', fontsize=30.7, fontweight='bold')
    px_text(fig, 2398, 1389, r'cor=0.35, p= 8 × 10$^{\mathbf{-97}}$', ha='center', va='center', fontsize=29.5, fontweight='bold')
    ax = px_axes(fig, 1860.5, 1424.5, 2847, 2307)
    ax.set_xlim(0.170, 0.979)
    ax.set_ylim(-0.029, 0.888)
    mm = [p[0] for p in mm_gs_points]
    gs = [p[1] for p in mm_gs_points]
    for band_gs, band_mm in core_bands:
        mm.extend(band_mm)
        gs.extend([band_gs] * len(band_mm))
    ax.scatter(mm, gs, s=85, facecolors='none', edgecolors=TURQ, linewidths=1.5, zorder=2)
    ax.axhline(0.5, color='#0000FF', lw=1.8, zorder=3)
    ax.axvline(0.6, color='#0000FF', lw=1.8, zorder=3)
    ax.set_xticks(mm_ticks)
    ax.set_yticks(gs_ticks)
    ax.set_xticklabels([])
    ax.set_yticklabels([])
    ax.tick_params(length=13, width=1.3)
    for spine in ax.spines.values():
        spine.set_linewidth(1.4)
    for val in mm_ticks:
        px_text(fig, 1897 + (val - 0.2) * 1220, 2357, f'{val:.1f}', ha='center', va='center', fontsize=23)
    for val in gs_ticks:
        px_text(fig, 1807, 2279 - val * 962.6, f'{val:.1f}', rotation=90, ha='center', va='center', fontsize=23)
    px_text(fig, 2375, 2435, 'Module Membership in turquoise module', ha='center', va='center', fontsize=31)
    px_text(fig, 1744, 1850, 'Gene significance for HF', rotation=90, ha='center', va='center', fontsize=31)


def main():
    fig = plt.figure(figsize=(W / DPI, H / DPI), dpi=DPI)
    panel_a(fig)
    panel_b(fig)
    panel_c(fig)
    panel_d(fig)
    for letter, x, y in [('A', 42, 78), ('B', 1371, 78), ('C', 42, 1340), ('D', 1692, 1368)]:
        px_text(fig, x, y, letter, ha='left', va='baseline', fontsize=54, fontweight='bold')
    fig.savefig('out.png', dpi=DPI)


if __name__ == '__main__':
    main()
